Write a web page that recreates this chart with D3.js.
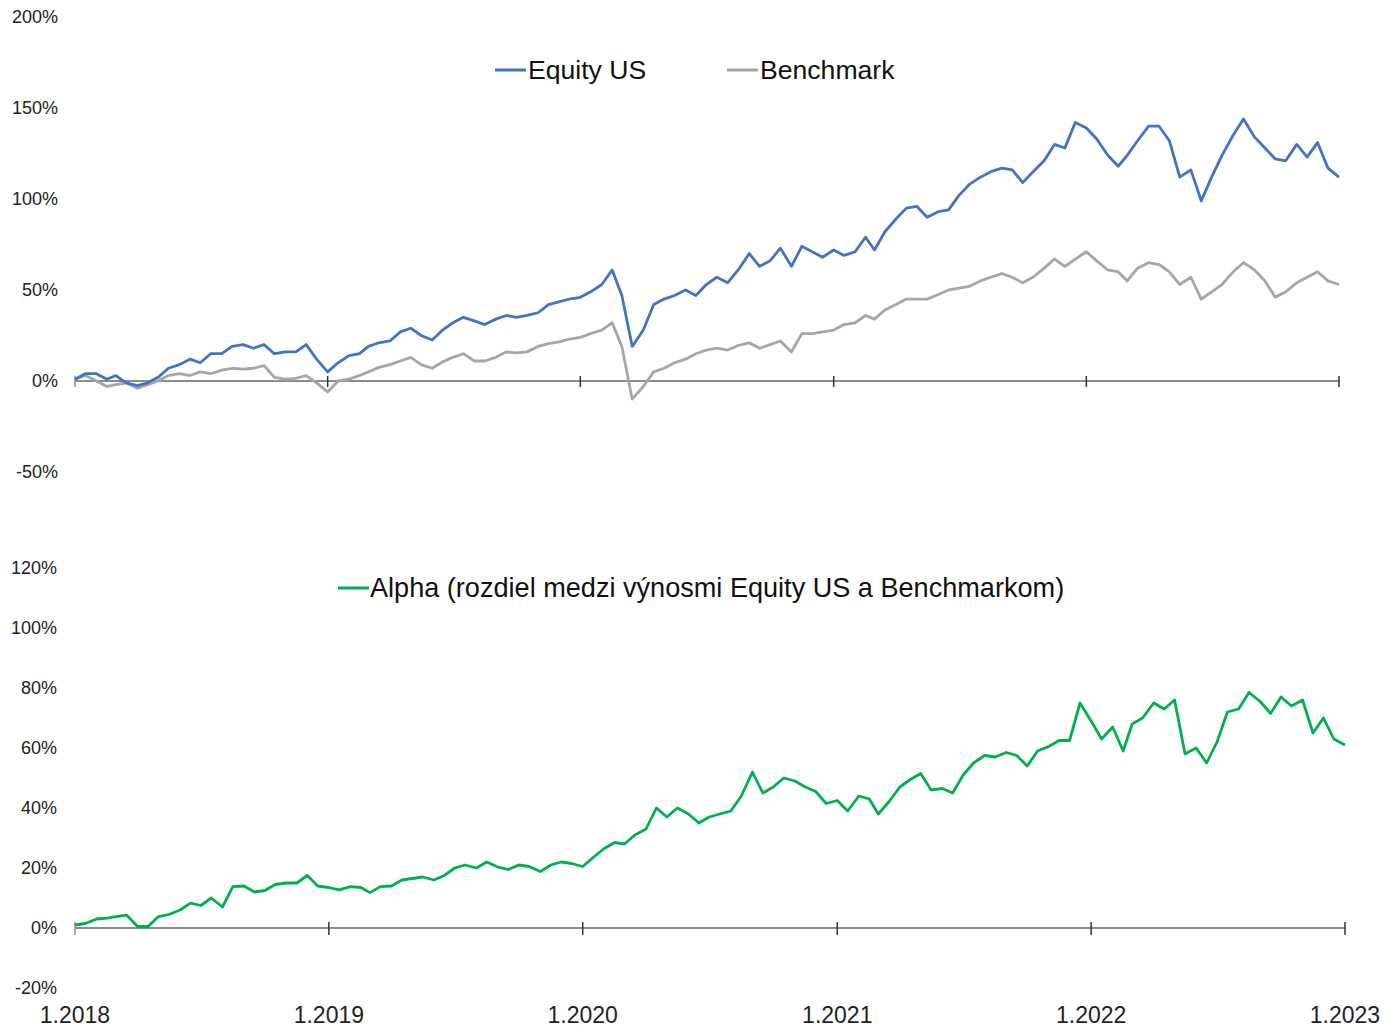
<!DOCTYPE html>
<head>
    <meta charset="UTF-8" />
    <style>
        body { margin: 0; padding: 0; background: #fff; font-family: "Liberation Sans", Arial, sans-serif; color: #222; }
        .series { fill: none; stroke-width: 2.8px; stroke-linejoin: round; }
        .ylab { font-size: 18px; fill: #222; text-anchor: end; }
        .xlab { font-size: 23px; fill: #222; text-anchor: middle; }
        .leg { font-size: 26.6px; fill: #111; }
        .leg2 { font-size: 27.1px; fill: #111; }
    </style>
    <title>Equity US vs Benchmark</title>
</head>

<svg width="1392" height="1027"></svg>
<script src="https://d3js.org/d3.v7.min.js"></script>

<script>
    // values in %, one point per half month from 1.1.2018 to 1.1.2023
    const equityUS = [1, 4, 4, 1, 3, -1, -2.5, -1, 2, 7, 9, 12, 10, 15, 15, 19, 20, 18, 20, 15,
        16, 16, 20, 12, 5, 10, 14, 15, 19, 21, 22, 27, 29, 25, 22.5, 28, 32, 35, 33, 31,
        34, 36, 35, 36, 37.5, 42, 43.5, 45, 46, 49, 53, 61, 47, 19, 28, 42, 45, 47, 50, 47,
        53, 57, 54, 61, 70, 63, 66, 73, 63, 74, 71, 68, 72, 69, 71, 79, 72, 82, 89, 95,
        96, 90, 93, 94, 102, 108, 112, 115, 117, 116, 109, 115, 121, 130, 128, 142, 139, 133, 124, 118,
        124, 132, 140, 140, 132, 112, 116, 99, 112, 124, 135, 144, 134, 128, 122, 121, 130, 123, 131, 117, 112];

    const benchmark = [1, 3, 0, -3, -2, -1, -4, -2, 0, 3, 4, 3, 5, 4, 6, 7, 6.5, 7, 8.5, 2,
        1, 1.5, 3, -1, -6, 0, 1, 3, 5, 7.5, 9, 11, 13, 9, 7, 10.5, 13, 15, 11, 11,
        13, 16, 15.5, 16, 19, 20.5, 21.5, 23, 24, 26, 28, 32, 19, -10, -3, 5, 7, 10, 12, 15,
        17, 18, 17, 19.5, 21, 18, 20, 22, 16, 26, 26, 27, 28, 31, 32, 36, 34, 39, 42, 45,
        45, 45, 47.5, 50, 51, 52, 55, 57, 59, 57, 54, 57, 62, 67, 63, 67, 71, 66, 61, 60,
        55, 62, 65, 64, 60, 53, 57, 45, 49, 53, 60, 65, 61, 55, 46, 49, 54, 57, 60, 55, 53];

    const alpha = [1, 1.5, 3, 3.3, 3.8, 4.3, 0.5, 0.5, 3.8, 4.5, 6, 8.3, 7.5, 10, 7, 13.8, 14, 12, 12.5, 14.5,
        15, 15, 17.5, 14, 13.5, 12.7, 13.8, 13.5, 11.8, 13.8, 14, 16, 16.5, 17, 16, 17.5, 20, 21, 20, 22,
        20.3, 19.5, 21, 20.5, 18.8, 21, 22, 21.5, 20.5, 23.5, 26.5, 28.5, 28, 31, 33, 40, 37, 40, 38, 35,
        37, 38, 39, 44, 52, 45, 47, 50, 49, 47, 45.5, 41.5, 42.5, 39, 44, 43, 38, 42, 47, 49.5,
        51.5, 46, 46.5, 45, 51, 55, 57.5, 57, 58.5, 57.5, 54, 59, 60.5, 62.5, 62.5, 75, 69, 63, 67, 59,
        68, 70, 75, 73, 76, 58, 60, 55, 62, 72, 73, 78.5, 75.5, 71.5, 77, 74, 76, 65, 70, 63, 61];

    const yearTicks = [2018, 2019, 2020, 2021, 2022, 2023];
    const topTicks = [200, 150, 100, 50, 0, -50];
    const bottomTicks = [120, 100, 80, 60, 40, 20, 0, -20];

    const dates = equityUS.map((_, i) => new Date(2018, Math.floor(i / 2), i % 2 ? 16 : 1));
    const tickDates = yearTicks.map(y => new Date(y, 0, 1));

    const svg = d3.select("svg");

    // ---- top panel
    const xTop = d3.scaleTime().domain([tickDates[0], tickDates[5]]).range([75, 1339]);
    const yTop = d3.scaleLinear().domain([-50, 200]).range([472, 17]);

    const topG = svg.append("g");
    topG.selectAll(".ylab").data(topTicks).enter().append("text")
        .attr("class", "ylab")
        .attr("x", 58)
        .attr("y", d => yTop(d) + 6)
        .text(d => d + "%");

    topG.append("line")
        .attr("x1", xTop.range()[0]).attr("x2", xTop.range()[1])
        .attr("y1", yTop(0)).attr("y2", yTop(0))
        .attr("stroke", "#8c8c8c").attr("stroke-width", 2);
    topG.selectAll(".tk").data(tickDates).enter().append("line")
        .attr("x1", d => xTop(d)).attr("x2", d => xTop(d))
        .attr("y1", yTop(0) - 5).attr("y2", yTop(0) + 6)
        .attr("stroke", (d, i) => i ? "#333" : "#8c8c8c").attr("stroke-width", 1.5);

    const lineTop = (vals) => d3.line()
        .x((d, i) => xTop(dates[i]))
        .y(d => yTop(d))(vals);

    topG.append("path").attr("class", "series").attr("stroke", "#a6a6a6").attr("d", lineTop(benchmark));
    topG.append("path").attr("class", "series").attr("stroke", "#4472c4").attr("d", lineTop(equityUS));

    // legend top
    const legTop = [
        { name: "Equity US", color: "#4472c4", x: 495 },
        { name: "Benchmark", color: "#a6a6a6", x: 727 }
    ];
    legTop.forEach(l => {
        topG.append("line").attr("x1", l.x).attr("x2", l.x + 31).attr("y1", 70).attr("y2", 70)
            .attr("stroke", l.color).attr("stroke-width", 3);
        topG.append("text").attr("class", "leg").attr("x", l.x + 33).attr("y", 79).text(l.name);
    });

    // ---- bottom panel
    const xBot = d3.scaleTime().domain([tickDates[0], tickDates[5]]).range([75, 1345]);
    const yBot = d3.scaleLinear().domain([-20, 120]).range([988, 568]);

    const botG = svg.append("g");
    botG.selectAll(".ylab").data(bottomTicks).enter().append("text")
        .attr("class", "ylab")
        .attr("x", 57)
        .attr("y", d => yBot(d) + 6)
        .text(d => d + "%");

    botG.append("line")
        .attr("x1", xBot.range()[0]).attr("x2", xBot.range()[1])
        .attr("y1", yBot(0)).attr("y2", yBot(0))
        .attr("stroke", "#666").attr("stroke-width", 1.5);
    botG.selectAll(".tk").data(tickDates).enter().append("line")
        .attr("x1", d => xBot(d)).attr("x2", d => xBot(d))
        .attr("y1", yBot(0) - 6).attr("y2", yBot(0) + 7)
        .attr("stroke", (d, i) => i ? "#333" : "#8c8c8c").attr("stroke-width", 1.5);

    botG.selectAll(".xlab").data(tickDates).enter().append("text")
        .attr("class", "xlab")
        .attr("x", d => xBot(d))
        .attr("y", 1023)
        .text(d3.timeFormat("%-m.%Y"));

    botG.append("path").attr("class", "series").attr("stroke", "#00b050")
        .attr("d", d3.line().x((d, i) => xBot(dates[i])).y(d => yBot(d))(alpha));

    botG.append("line").attr("x1", 338).attr("x2", 369).attr("y1", 588).attr("y2", 588)
        .attr("stroke", "#00b050").attr("stroke-width", 3);
    botG.append("text").attr("class", "leg2").attr("x", 370).attr("y", 597)
        .text("Alpha (rozdiel medzi výnosmi Equity US a Benchmarkom)");
</script>
